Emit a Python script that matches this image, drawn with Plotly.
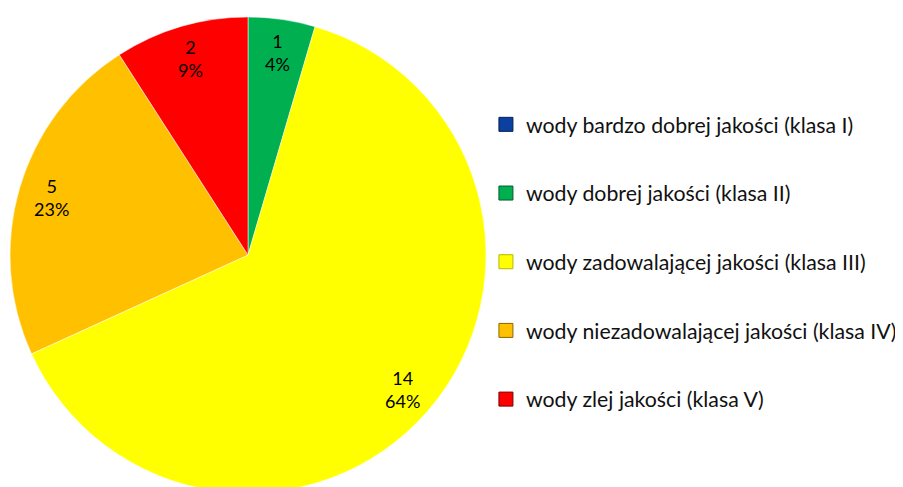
import math
import plotly.graph_objects as go

labels = [
    "wody bardzo dobrej jakości (klasa I)",
    "wody dobrej jakości (klasa II)",
    "wody zadowalającej jakości (klasa III)",
    "wody niezadowalającej jakości (klasa IV)",
    "wody zlej jakości (klasa V)",
]
values = [0, 1, 14, 5, 2]
percent_labels = ["0%", "4%", "64%", "23%", "9%"]
colors = ["#0B3FA0", "#00B050", "#FFFF00", "#FFC000", "#FF0000"]
edge_colors = ["#06204F", "#005A2A", "#B8B800", "#8A6800", "#7A0000"]

# figure sits inside the page's default 8px body margin
W, H = 895, 500
cx, cy, R = 240, 247, 238
label_r = 0.86
FONT = "Lato, Open Sans, sans-serif"

fig = go.Figure()
fig.add_trace(go.Pie(
    labels=labels,
    values=values,
    sort=False,
    direction="clockwise",
    rotation=0,
    marker=dict(colors=colors, line=dict(color="rgba(255,255,255,0.5)", width=1)),
    textinfo="none",
    hoverinfo="none",
    domain=dict(x=[(cx - R) / W, (cx + R) / W],
                y=[1 - (cy + R) / H, 1 - (cy - R) / H]),
    showlegend=False,
))

# legend entries (one per class, same colours as the slices)
for i, (lab, col, ec) in enumerate(zip(labels, colors, edge_colors)):
    fig.add_trace(go.Scatter(
        x=[None], y=[None], mode="markers", name=lab,
        legendgroup=f"g{i}",
        marker=dict(symbol="square", size=14, color=col, line=dict(color=ec, width=1)),
        hoverinfo="skip",
    ))

total = sum(values)
cum = 0
for v, p in zip(values, percent_labels):
    if v > 0:
        mid = (cum + v / 2) / total * 2 * math.pi
        px = cx + label_r * R * math.sin(mid)
        py = cy - label_r * R * math.cos(mid)
        fig.add_annotation(
            x=px / W, y=1 - py / H, xref="paper", yref="paper",
            xanchor="center", yanchor="middle",
            text=f"{v}<br>{p}", showarrow=False,
            font=dict(family=FONT, size=18, color="#000"),
            align="center",
        )
    cum += v

fig.update_layout(
    width=W, height=H,
    margin=dict(l=0, r=0, t=0, b=0),
    paper_bgcolor="white",
    plot_bgcolor="white",
    xaxis=dict(visible=False),
    yaxis=dict(visible=False),
    legend=dict(
        x=0.534, y=0.808, xanchor="left", yanchor="top",
        traceorder="grouped",
        tracegroupgap=38,
        font=dict(family=FONT, size=21.3, color="#111"),
        itemclick=False,
    ),
)

fig.write_html("out.html")
